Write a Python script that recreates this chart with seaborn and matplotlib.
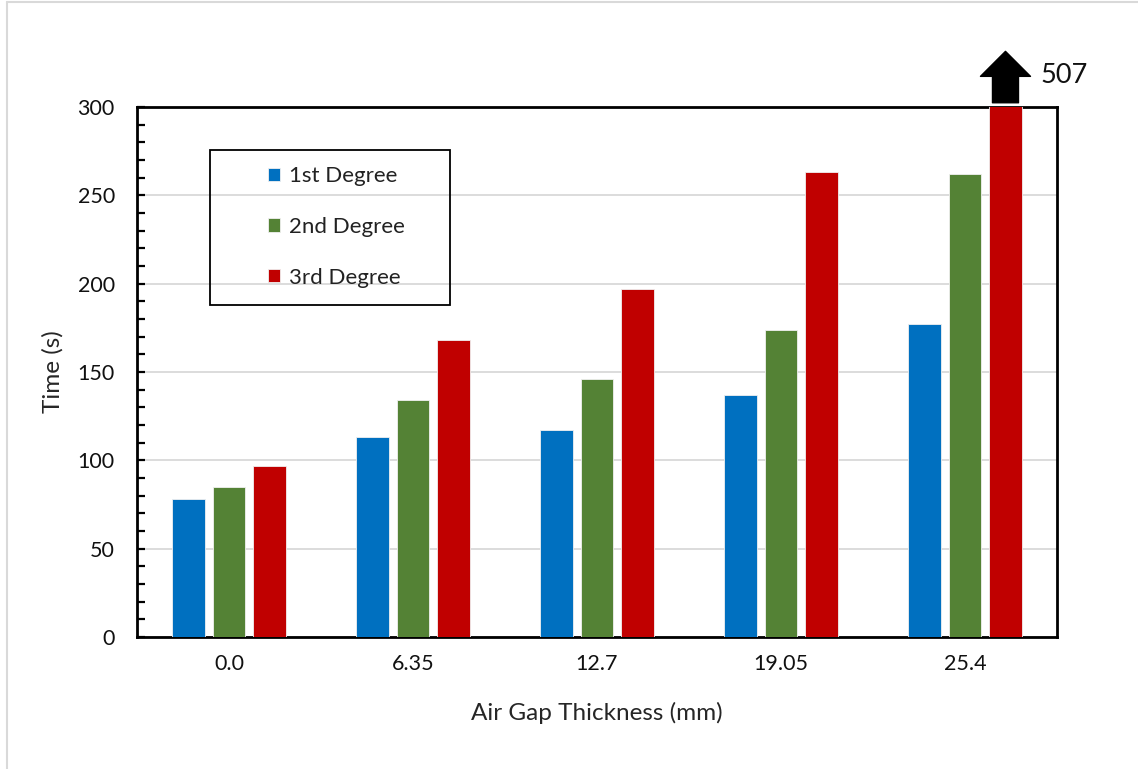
import numpy as np
import pandas as pd
import matplotlib
matplotlib.use("Agg")
import matplotlib.pyplot as plt
from matplotlib.lines import Line2D
from matplotlib.patches import Rectangle
from matplotlib.ticker import MultipleLocator
import seaborn as sns

# ---- data ----
categories = ["0.0", "6.35", "12.7", "19.05", "25.4"]
series = ["1st Degree", "2nd Degree", "3rd Degree"]
first_degree = [78, 113, 117, 137, 177]
second_degree = [85, 134, 146, 174, 262]
third_degree = [97, 168, 197, 263, 507]
overflow_label = "507"
colors = ["#0070C0", "#548235", "#C00000"]

rows = []
for s, vals in zip(series, [first_degree, second_degree, third_degree]):
    for c, v in zip(categories, vals):
        rows.append({"Air Gap Thickness (mm)": c, "Time (s)": v, "Degree": s})
df = pd.DataFrame(rows)

sns.set_theme(style="white")
plt.rcParams["font.family"] = ["Lato", "DejaVu Sans"]

fig = plt.figure(figsize=(11.38, 7.69), dpi=100)
ax = fig.add_axes([137 / 1138, 1 - 637 / 769, 920 / 1138, 530 / 769])

sns.barplot(data=df, x="Air Gap Thickness (mm)", y="Time (s)", hue="Degree",
            hue_order=series, order=categories, palette=colors, ax=ax,
            width=0.66, gap=0.19, saturation=1, errorbar=None,
            edgecolor="#f0f0f0", linewidth=0.6, zorder=3)

ax.set_ylim(0, 300)
ax.set_xlim(-0.5, 4.5)
ax.yaxis.set_major_locator(MultipleLocator(50))
ax.yaxis.set_minor_locator(MultipleLocator(10))
ax.grid(axis="y", which="major", color="#d9d9d9", linewidth=1.3, zorder=0)
ax.set_axisbelow(True)
for sp in ax.spines.values():
    sp.set_color("black")
    sp.set_linewidth(2.0)
    sp.set_visible(True)
ax.tick_params(axis="y", which="both", direction="in", length=6, width=1.6,
               color="black", left=True, labelsize=15.5, pad=16)
ax.tick_params(axis="x", which="both", length=0, labelsize=15.5, pad=12)
ax.set_xlabel("Air Gap Thickness (mm)", fontsize=17.5, labelpad=20)
ax.set_ylabel("Time (s)", fontsize=17.5, labelpad=10)
for lab in ax.get_xticklabels() + ax.get_yticklabels():
    lab.set_color("#111111")

# legend (entries without frame, frame drawn as separate box)
leg = ax.legend(loc="center left", bbox_to_anchor=(0.1424, 0.7736), fontsize=16,
                frameon=False, handlelength=0.55, handleheight=0.55, handletextpad=0.4,
                labelspacing=1.38, borderpad=0, borderaxespad=0)
for t in leg.get_texts():
    t.set_color("#222222")
ax.add_patch(Rectangle((0.0793, 0.626), 0.261, 0.293, transform=ax.transAxes,
                       facecolor="none", edgecolor="black", linewidth=1.3, zorder=5))

# arrow indicating overflow of the tallest (clipped) bar
bars = [p for p in ax.patches if hasattr(p, "get_x") and p.get_height() > 300]
xc = max(b.get_x() + b.get_width() / 2 for b in bars)
trans = ax.get_xaxis_transform()
ax.annotate("", xy=(xc, 1.105), xytext=(xc, 1.008), xycoords=trans, textcoords=trans,
            arrowprops=dict(arrowstyle="simple,head_length=1.0,head_width=2.0,tail_width=1.04",
                            mutation_scale=18, color="black", shrinkA=0, shrinkB=0),
            annotation_clip=False)
ax.text(xc + 0.19, 1.06, overflow_label, transform=trans, fontsize=19.5,
        va="center", ha="left", color="#111111", clip_on=False)

# faint outer border (top and left)
fig.add_artist(Line2D([7 / 1138, 1], [1 - 2 / 769, 1 - 2 / 769], transform=fig.transFigure,
                      color="#d9d9d9", linewidth=1.5))
fig.add_artist(Line2D([7 / 1138, 7 / 1138], [0, 1 - 2 / 769], transform=fig.transFigure,
                      color="#d9d9d9", linewidth=1.5))

fig.savefig("out.png", dpi=100)
